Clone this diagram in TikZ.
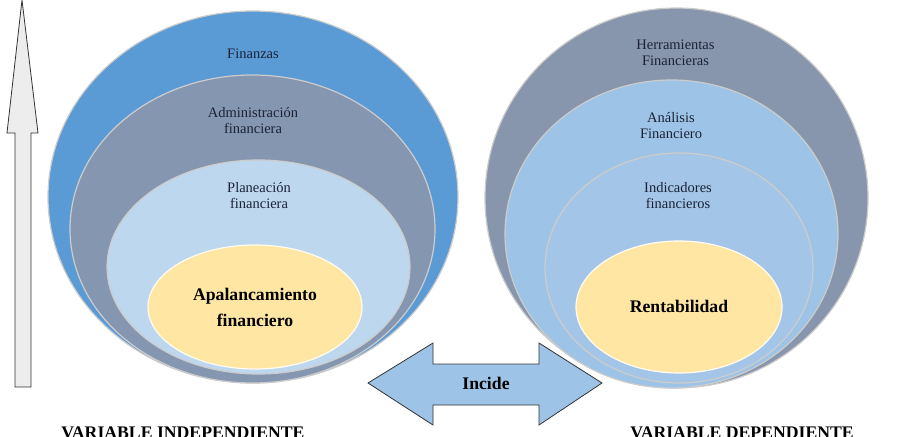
\documentclass[tikz,border=0pt]{standalone}
\usepackage{fontspec}
\setmainfont{Liberation Serif}
\usetikzlibrary{shapes.geometric}
\definecolor{finblue}{HTML}{5B9BD5}
\definecolor{admgray}{HTML}{8596B0}
\definecolor{plablue}{HTML}{BDD7EE}
\definecolor{coreyel}{HTML}{FFE7A3}
\definecolor{hergray}{HTML}{8896AD}
\definecolor{anablue}{HTML}{9DC3E6}
\definecolor{indblue}{HTML}{A3C5E7}
\definecolor{lbltxt}{HTML}{1C2236}
\tikzset{
  ring/.style={ellipse, draw=white!80!black, line width=1.2pt, inner sep=0pt, outer sep=0pt},
  core/.style={ring, fill=coreyel, draw=white!85!coreyel},
  lbl/.style={align=center, text=lbltxt, font=\fontsize{14.5}{16}\selectfont},
  big/.style={align=center, font=\fontsize{17.7}{26}\selectfont\bfseries},
  varlbl/.style={anchor=base, font=\fontsize{17.7}{20}\selectfont\bfseries},
  arrshape/.style={draw=black!80, line width=0.8pt, line join=miter},
}
\begin{document}
\begin{tikzpicture}[x=1pt,y=-1pt]
\useasboundingbox (0,0) rectangle (920,436);
% variable independiente
\node[ring, fill=finblue, minimum width=410pt, minimum height=372pt] (fin) at (253,197) {};
\node[ring, fill=admgray, minimum width=365pt, minimum height=308pt] (adm) at (252.5,229) {};
\node[ring, fill=plablue, minimum width=303pt, minimum height=214pt] (pla) at (258.5,267) {};
\node[core, minimum width=214pt, minimum height=124pt] (apa) at (255,307) {};
\node[lbl] (finl) at (253,54) {Finanzas};
\node[lbl] (adml) at (253,121) {Administración\\financiera};
\node[lbl] (plal) at (259,196) {Planeación\\financiera};
\node[big] (apal) at (255,307) {Apalancamiento\\financiero};
% variable dependiente
\node[ring, fill=hergray, minimum width=383pt, minimum height=380pt] (her) at (676.5,198) {};
\node[ring, fill=anablue, minimum width=333pt, minimum height=308pt] (ana) at (671.5,234) {};
\node[ring, fill=indblue, minimum width=268pt, minimum height=230pt] (ind) at (679,268) {};
\node[core, minimum width=206pt, minimum height=132pt] (ren) at (679,307) {};
\node[lbl] (herl) at (675.5,53) {Herramientas\\Financieras};
\node[lbl] (anal) at (671,126) {Análisis\\Financiero};
\node[lbl] (indl) at (678,196) {Indicadores\\financieros};
\node[big] (renl) at (679,306) {Rentabilidad};
% flechas
\draw[arrshape, fill=black!7] (15,387) -- (15,133) -- (7,133) -- (22,0) -- (38,133)
  -- (31,133) -- (31,387) -- cycle;
\draw[arrshape, fill=anablue] (368,383) -- (433,343) -- (433,364) -- (539,364) -- (539,343)
  -- (602,383) -- (539,425) -- (539,405) -- (433,405) -- (433,425) -- cycle;
\node[big] (inc) at (486,383) {Incide};
\node[varlbl] (vind) at (183,438) {VARIABLE INDEPENDIENTE};
\node[varlbl] (vdep) at (742,438) {VARIABLE DEPENDIENTE};
\end{tikzpicture}
\end{document}
